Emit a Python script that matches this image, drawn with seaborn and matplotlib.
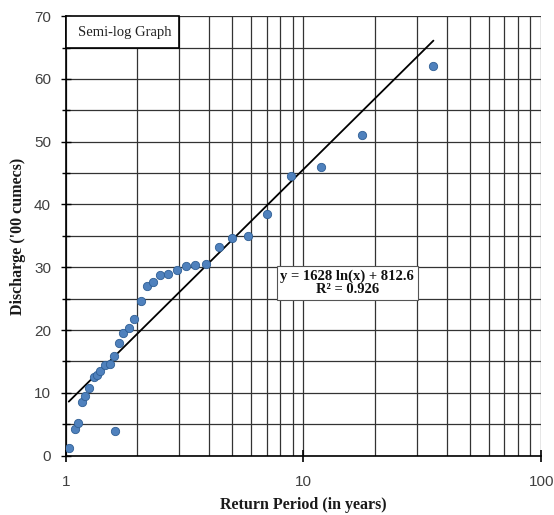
import numpy as np
import pandas as pd
import matplotlib
matplotlib.use("Agg")
import matplotlib.pyplot as plt
from matplotlib.patches import Rectangle
from matplotlib.ticker import LogLocator, FixedLocator, NullFormatter
import seaborn as sns

# Return period (years) and discharge ('00 cumecs)
return_period = [1.03, 1.09, 1.13, 1.17, 1.21, 1.25, 1.31, 1.36, 1.40, 1.47,
                 1.53, 1.59, 1.61, 1.67, 1.75, 1.85, 1.94, 2.07, 2.20, 2.34,
                 2.50, 2.69, 2.93, 3.20, 3.50, 3.89, 4.41, 5.00, 5.87, 7.00,
                 8.86, 11.8, 17.7, 35.2]
discharge = [1.2, 4.2, 5.2, 8.5, 9.5, 10.7, 12.6, 12.8, 13.5, 14.4,
             14.6, 15.8, 3.9, 17.9, 19.5, 20.4, 21.8, 24.7, 27.0, 27.7,
             28.8, 29.0, 29.6, 30.2, 30.3, 30.5, 33.2, 34.6, 35.0, 38.5,
             44.5, 46.0, 51.0, 62.1]

# trendline from the chart: y = 1628 ln(x) + 812.6 (in cumecs)
slope, intercept = 16.28, 8.126
eq_label = "y = 1628 ln(x) + 812.6\nR² = 0.926"

df = pd.DataFrame({"T": return_period, "Q": discharge})
xt = np.geomspace(min(return_period), max(return_period), 100)
trend = pd.DataFrame({"T": xt, "Q": slope * np.log(xt) + intercept})

sns.set_theme(style="white")
plt.rcParams["font.family"] = ["Liberation Sans", "DejaVu Sans"]

fig = plt.figure(figsize=(5.54, 5.15), dpi=100)
ax = fig.add_axes([0.1186, 0.1152, 0.977 - 0.1186, 0.9687 - 0.1152])

ax.set_xscale("log")
ax.set_xlim(1, 100)
ax.set_ylim(0, 70)

# grid
ax.xaxis.set_major_locator(FixedLocator([1, 10, 100]))
ax.xaxis.set_minor_locator(LogLocator(base=10, subs=np.arange(2, 10)))
ax.xaxis.set_minor_formatter(NullFormatter())
ax.set_xticks([1, 10, 100])
ax.set_xticklabels(["1", "10", "100"])
ax.yaxis.set_major_locator(FixedLocator(np.arange(0, 71, 10)))
ax.yaxis.set_minor_locator(FixedLocator(np.arange(5, 70, 10)))
ax.grid(True, which="both", color="#333333", lw=0.9)
ax.set_axisbelow(True)

sns.lineplot(data=trend, x="T", y="Q", color="black", lw=1.3, ax=ax, zorder=3)
sns.scatterplot(data=df, x="T", y="Q", color="#4F81BD", edgecolor="#2F5F95",
                linewidth=0.6, s=36, ax=ax, zorder=4)

for s in ["top", "right"]:
    ax.spines[s].set_visible(False)
for s in ["left", "bottom"]:
    ax.spines[s].set_color("black")
    ax.spines[s].set_linewidth(1.2)

ax.tick_params(axis="x", which="major", direction="inout", length=8, width=1.2,
               color="black", pad=10, labelsize=11, labelcolor="#404040", bottom=True)
ax.tick_params(axis="x", which="minor", length=0)
ax.tick_params(axis="y", which="both", direction="inout", length=7, width=1.0,
               color="black", pad=7, labelsize=11, labelcolor="#404040", left=True)
ax.tick_params(axis="y", which="minor", length=6)

serif = ["Liberation Serif", "DejaVu Serif"]
ax.set_xlabel("Return Period (in years)", family=serif, fontweight="bold",
              fontsize=11.5, color="#1a1a1a", labelpad=6)
ax.set_ylabel("Discharge ('00 cumecs)", family=serif, fontweight="bold",
              fontsize=11.5, color="#1a1a1a", labelpad=6)

# title box flush with the top-left corner of the plot area
ax.add_patch(Rectangle((0, 0.9275), 0.238, 0.0725, transform=ax.transAxes,
                       fc="white", ec="black", lw=1.2, zorder=5, clip_on=False))
ax.text(0.124, 0.963, "Semi-log Graph", transform=ax.transAxes, family=serif,
        fontsize=10.5, ha="center", va="center", color="#222222", zorder=6)

ax.text(0.592, 0.393, eq_label, transform=ax.transAxes, family=serif,
        fontweight="bold", fontsize=10.5, ha="center", va="center",
        linespacing=1.0, color="#111111",
        bbox=dict(boxstyle="square,pad=0.25", fc="white", ec="#555555", lw=0.8),
        zorder=5)

fig.savefig("out.png", dpi=100)
